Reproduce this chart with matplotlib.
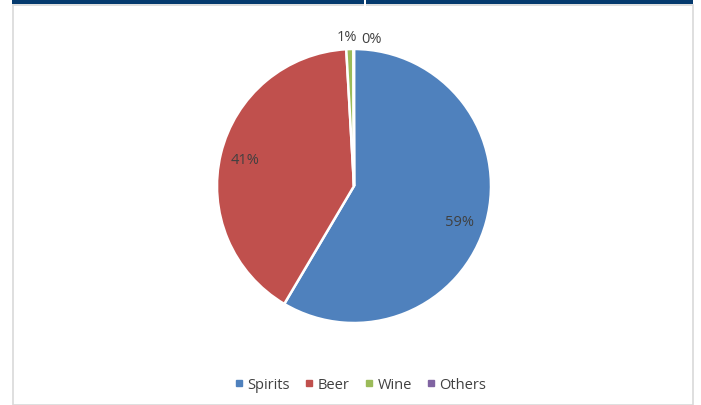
import matplotlib.pyplot as plt
from matplotlib.patches import Rectangle
from matplotlib.lines import Line2D
import numpy as np

categories = ['Spirits', 'Beer', 'Wine', 'Others']
shares = [58.5, 40.6, 0.85, 0.05]
pct_labels = ['59%', '41%', '1%', '0%']
colors = ['#4F81BD', '#C0504D', '#9BBB59', '#8064A2']

plt.rcParams['font.family'] = ['Open Sans', 'DejaVu Sans']
W, H = 701, 406
fig = plt.figure(figsize=(W / 100, H / 100), dpi=100)

# frame and header strip
fig.patches.append(Rectangle((12.5 / W, 0), 680 / W, 400 / H, transform=fig.transFigure,
                             facecolor='white', edgecolor='#D9D9D9', lw=1.2, zorder=-5))
fig.patches.append(Rectangle((12 / W, 401 / H), 681 / W, 5 / H, transform=fig.transFigure,
                             facecolor='#053A6E', edgecolor='none', zorder=-4))
fig.patches.append(Rectangle((364 / W, 396 / H), 2 / W, 10 / H, transform=fig.transFigure,
                             facecolor='white', edgecolor='none', zorder=-3))

cx, cy, r = 354, 406 - 187, 137
ax = fig.add_axes([(cx - r) / W, (cy - r) / H, 2 * r / W, 2 * r / H])
ax.patch.set_alpha(0)
wedges, _ = ax.pie(shares, colors=colors, startangle=90, counterclock=False, radius=1,
                   wedgeprops=dict(edgecolor='white', linewidth=1.8))
ax.set_xlim(-1, 1)
ax.set_ylim(-1, 1)
ax.set_aspect('equal')
ax.axis('off')

# label placement: inside for big slices, outside (nudged) for tiny ones
dists = [0.80, 0.82, 1.10, 1.09]
nudge_x = [0.0, 0.0, -0.02, 0.13]
nudge_y = [-0.05, 0.0, -0.005, -0.01]
for w, lab, d, nx, ny in zip(wedges, pct_labels, dists, nudge_x, nudge_y):
    ang = np.deg2rad((w.theta1 + w.theta2) / 2)
    ax.text(d * np.cos(ang) + nx, d * np.sin(ang) + ny, lab, ha='center', va='center',
            fontsize=10.5, color='#404040', clip_on=False)

handles = [Line2D([], [], marker='s', ls='none', markersize=5, color=c) for c in colors]
fig.legend(handles, categories, loc='center', bbox_to_anchor=(359 / W, 20 / H), ncol=4,
           frameon=False, fontsize=10.5, handletextpad=0.1, columnspacing=0.8,
           labelcolor='#404040', handlelength=1.0)

fig.savefig('out.png', dpi=100)
